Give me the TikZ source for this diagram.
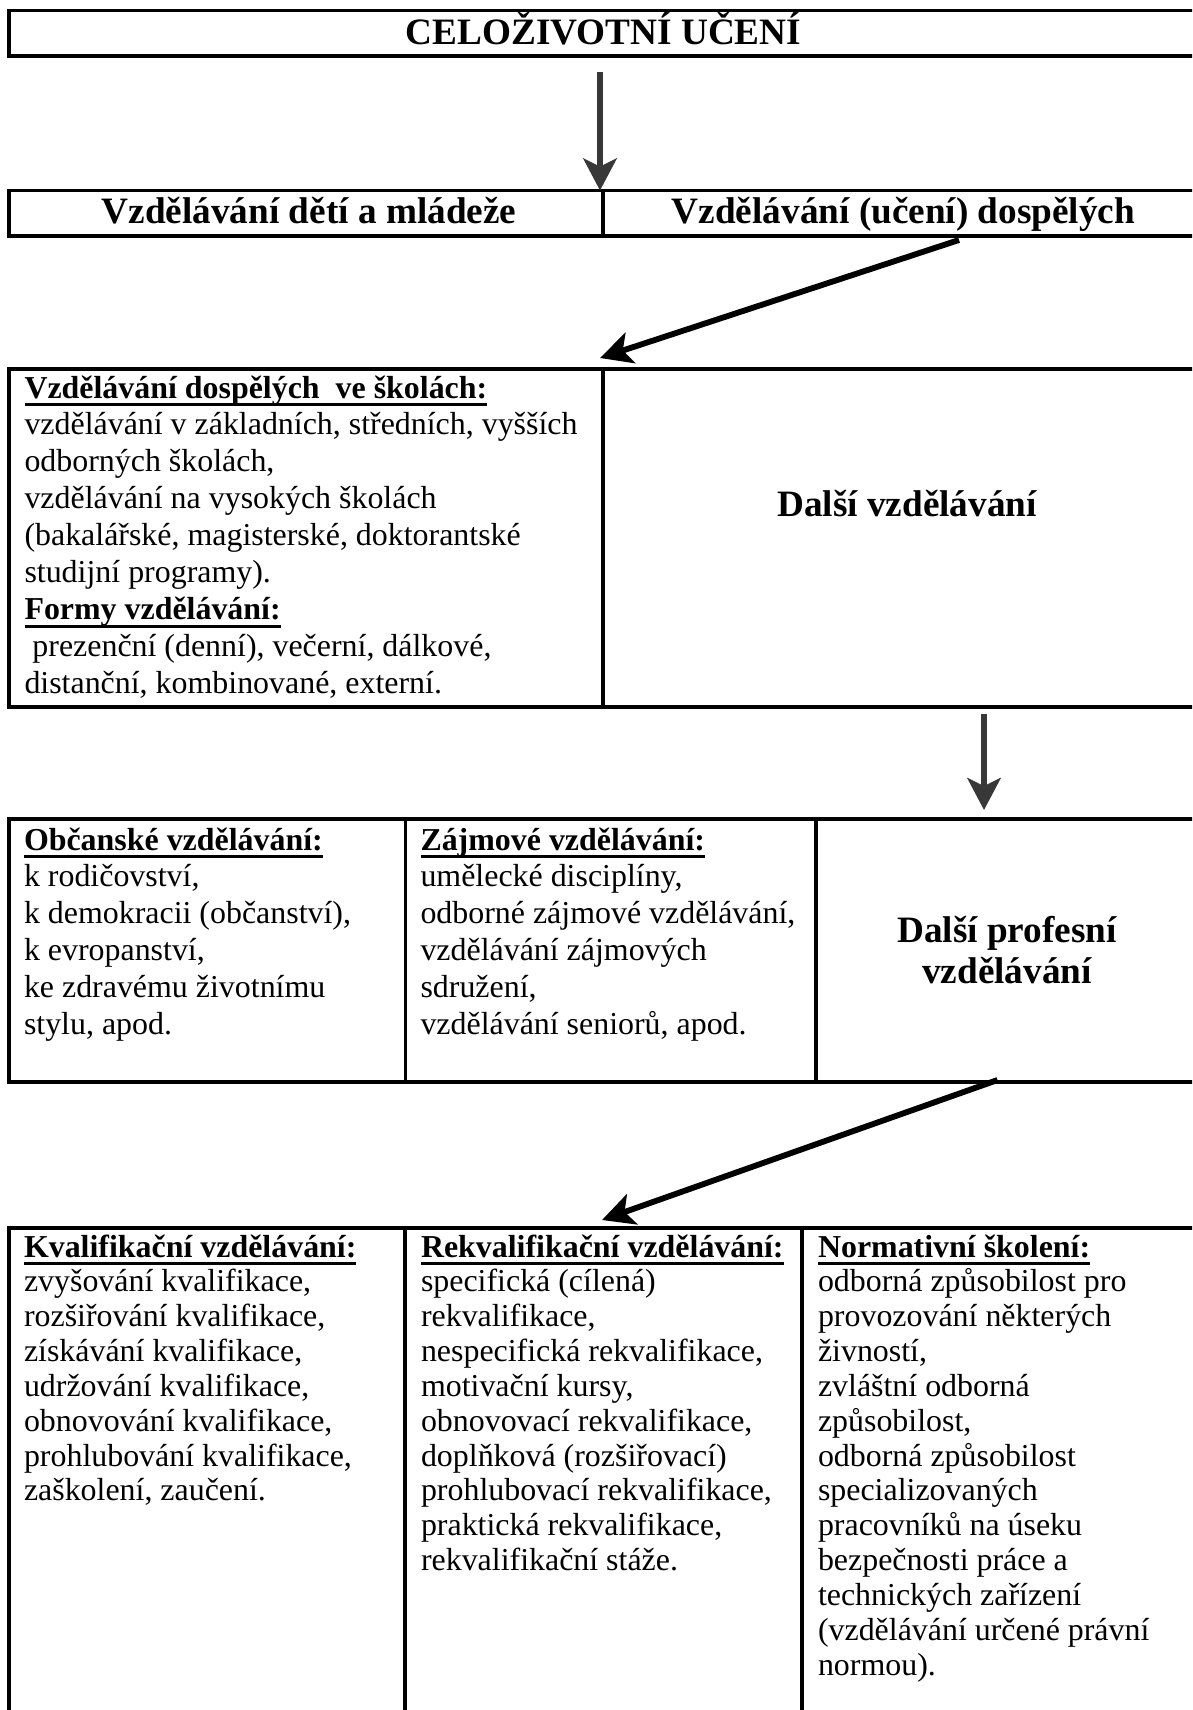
\documentclass[tikz,border=0pt]{standalone}
\usepackage{fontspec}
\setmainfont{Liberation Serif}
\usetikzlibrary{arrows.meta,fit}
\newcommand\hd[1]{\setbox0\hbox{\bfseries #1}\rlap{\rule[-3pt]{\wd0}{1.2pt}}\box0}
\newcommand\celltext[2]{{\fontsize{12}{#1}\selectfont\begin{tabular}[t]{@{}l@{}}#2\end{tabular}}}
\newcommand\bigtext[1]{{\fontsize{14}{15.6}\selectfont\bfseries\begin{tabular}[t]{@{}c@{}}#1\end{tabular}}}
\tikzset{
  cell/.style={draw, line width=1.45pt, inner sep=0pt, outer sep=0pt},
  ctext/.style={inner sep=0pt, outer sep=0pt, anchor=base west},
  btext/.style={inner sep=0pt, outer sep=0pt, anchor=base, font=\fontsize{14}{16}\selectfont\bfseries},
  garrow/.style={draw=black!78, line width=2.2pt, -{Stealth[length=12pt,width=12.5pt,inset=3pt]}},
  barrow/.style={draw=black, line width=2.2pt, -{Stealth[length=12pt,width=12pt,inset=3pt]}}
}
\begin{document}
\begin{tikzpicture}[x=0.376pt,y=-0.376pt]
\path[use as bounding box] (0,0) rectangle (1192,1710);
\clip (0,0) rectangle (1192,1710);

% boxes
\node[cell, fit={(9,10.5) (1200,56)}] (top) {};
\node[cell, fit={(9,190.5) (603,236)}] (r2a) {};
\node[cell, fit={(603,190.5) (1200,236)}] (r2b) {};
\node[cell, fit={(9,369) (603,707)}] (b3a) {};
\node[cell, fit={(603,369) (1200,707)}] (b3b) {};
\node[cell, fit={(9,819) (405.5,1082)}] (b4a) {};
\node[cell, fit={(405.5,819) (816,1082)}] (b4b) {};
\node[cell, fit={(816,819) (1200,1082)}] (b4c) {};
\node[cell, fit={(9,1228) (405,1740)}] (b5a) {};
\node[cell, fit={(405,1228) (802,1740)}] (b5b) {};
\node[cell, fit={(802,1228) (1200,1740)}] (b5c) {};

% texts
\node[btext] (ttop) at (603.5,45) {CELOŽIVOTNÍ UČENÍ};
\node[btext] (tr2a) at (309,223) {Vzdělávání dětí a mládeže};
\node[btext] (tr2b) at (903.5,223) {Vzdělávání (učení) dospělých};
\node[btext] (tb3b) at (907,516) {Další vzdělávání};
\node[ctext, anchor=base] (tb4c) at (1007,942) {\bigtext{Další profesní\\vzdělávání}};

\node[ctext] (tb3a) at (24.5,398) {\celltext{13.9}{%
\hd{Vzdělávání dospělých\ \ ve školách:}\\
vzdělávání v základních, středních, vyšších\\
odborných školách,\\
vzdělávání na vysokých školách\\
(bakalářské, magisterské, doktorantské\\
studijní programy).\\
\hd{Formy vzdělávání:}\\
\ prezenční (denní), večerní, dálkové,\\
distanční, kombinované, externí.}};

\node[ctext] (tb4a) at (24,850) {\celltext{13.9}{%
\hd{Občanské vzdělávání:}\\
k rodičovství,\\
k demokracii (občanství),\\
k evropanství,\\
ke zdravému životnímu\\
stylu, apod.}};

\node[ctext] (tb4b) at (420.5,850) {\celltext{13.9}{%
\hd{Zájmové vzdělávání:}\\
umělecké disciplíny,\\
odborné zájmové vzdělávání,\\
vzdělávání zájmových\\
sdružení,\\
vzdělávání seniorů, apod.}};

\node[ctext] (tb5a) at (24,1257) {\celltext{13.1}{%
\hd{Kvalifikační vzdělávání:}\\
zvyšování kvalifikace,\\
rozšiřování kvalifikace,\\
získávání kvalifikace,\\
udržování kvalifikace,\\
obnovování kvalifikace,\\
prohlubování kvalifikace,\\
zaškolení, zaučení.}};

\node[ctext] (tb5b) at (421,1257) {\celltext{13.1}{%
\hd{Rekvalifikační vzdělávání:}\\
specifická (cílená)\\
rekvalifikace,\\
nespecifická rekvalifikace,\\
motivační kursy,\\
obnovovací rekvalifikace,\\
doplňková (rozšiřovací)\\
prohlubovací rekvalifikace,\\
praktická rekvalifikace,\\
rekvalifikační stáže.}};

\node[ctext] (tb5c) at (818,1257) {\celltext{13.1}{%
\hd{Normativní školení:}\\
odborná způsobilost pro\\
provozování některých\\
živností,\\
zvláštní odborná\\
způsobilost,\\
odborná způsobilost\\
specializovaných\\
pracovníků na úseku\\
bezpečnosti práce a\\
technických zařízení\\
(vzdělávání určené právní\\
normou).}};

% arrows
\coordinate (a1s) at (600,72);
\coordinate (a2s) at (959,240);
\coordinate (a2e) at (600,358);
\coordinate (a3s) at (984,714);
\coordinate (a3e) at (984,810);
\coordinate (a4s) at (997.5,1080);
\coordinate (a4e) at (602,1220);
\draw[garrow] (a1s) -- (a1s |- r2b.north);
\draw[barrow] (a2s) -- (a2e);
\draw[garrow] (a3s) -- (a3e);
\draw[barrow] (a4s) -- (a4e);
\end{tikzpicture}
\end{document}
